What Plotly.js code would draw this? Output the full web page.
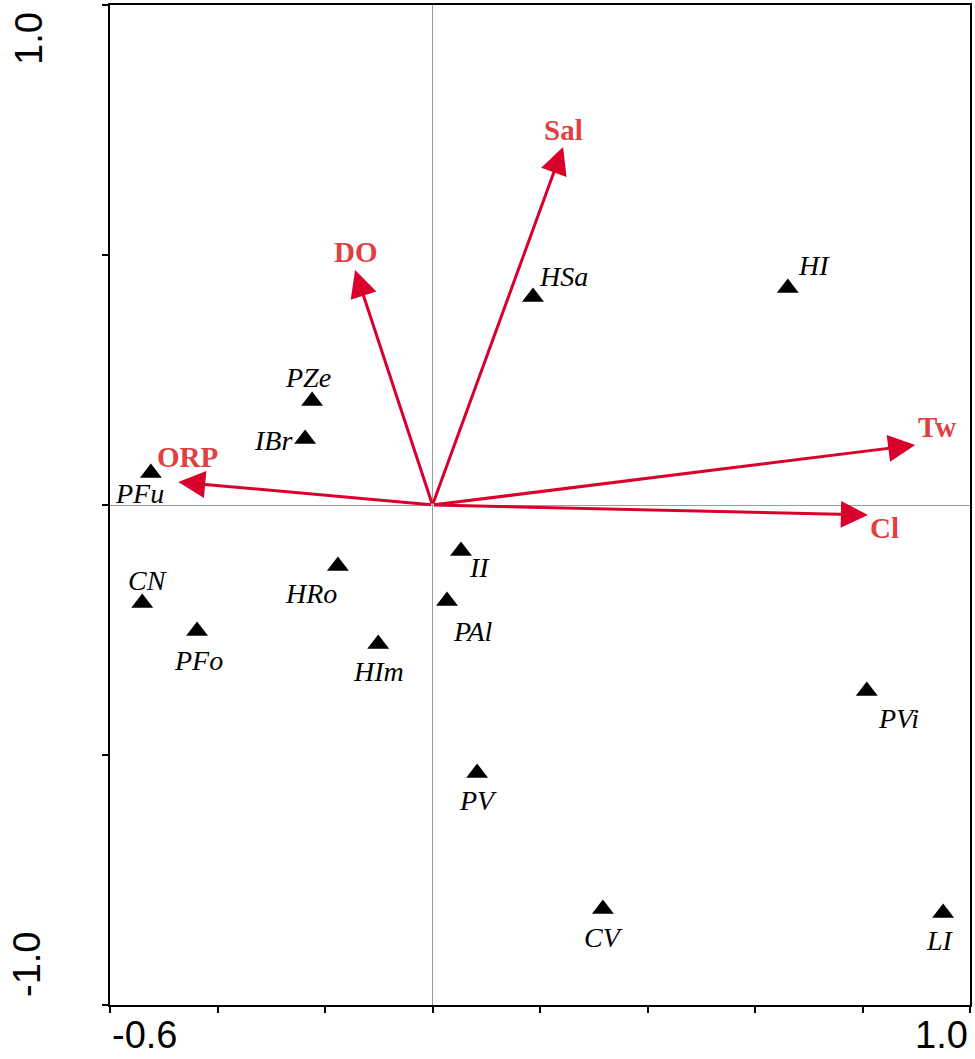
<!DOCTYPE html>
<html>
<head>
<meta charset="utf-8">
<script src="https://cdn.plot.ly/plotly-3.0.1.min.js"></script>
<style>html,body{margin:0;padding:0;background:#fff;}#chart{width:975px;height:1059px;}</style>
</head>
<body>
<div id="chart"></div>
<script>
// Species (sites) scores
const speciesNames = ['HSa','HI','PZe','IBr','PFu','II','HRo','CN','PAl','PFo','HIm','PVi','PV','CV','LI'];
const speciesX = [0.187, 0.661, -0.224, -0.237, -0.524, 0.053, -0.176, -0.540, 0.027, -0.438, -0.101, 0.808, 0.083, 0.317, 0.950];
const speciesY = [0.416, 0.434, 0.208, 0.132, 0.064, -0.092, -0.122, -0.196, -0.192, -0.252, -0.278, -0.372, -0.536, -0.808, -0.816];

// Environmental variable vectors
const envNames = ['Sal','DO','ORP','Tw','Cl'];
const envX = [0.243, -0.144, -0.473, 0.898, 0.810];
const envY = [0.716, 0.470, 0.046, 0.120, -0.020];

// Axis ticks
const xTickVals = [-0.6,-0.4,-0.2,0,0.2,0.4,0.6,0.8,1.0];
const yTickVals = [-1.0,-0.5,0,0.5,1.0];

// label offsets in pixels (style)
const spShift = [[30,21],[26,23],[-4,24],[-32,-1],[-11,-20],[19,-16],[-27,-27],[5,23],[26,-30],[1,-29],[0,-27],[32,-27],[1,-27],[1,-28],[-3,-27]];
const envShift = [[0,17],[1,18],[9,25],[22,18],[17,-13]];

const arrowColor = '#d9002b';
const envLabelColor = '#e2403f';

const annotations = [];
envNames.forEach((n,i)=>{
  annotations.push({
    x: envX[i], y: envY[i], ax: 0, ay: 0, xref:'x', yref:'y', axref:'x', ayref:'y',
    text:'', showarrow:true, arrowhead:2, arrowsize:1.8, arrowwidth:3, arrowcolor:arrowColor, standoff:0
  });
  annotations.push({
    x: envX[i], y: envY[i], xref:'x', yref:'y', text: n, showarrow:false,
    xshift: envShift[i][0], yshift: envShift[i][1],
    font:{family:'Liberation Serif, Times New Roman, serif', size:29, color:envLabelColor, weight:'bold'}
  });
});
speciesNames.forEach((n,i)=>{
  annotations.push({
    x: speciesX[i], y: speciesY[i], xref:'x', yref:'y', text:n, showarrow:false,
    xshift: spShift[i][0], yshift: spShift[i][1],
    font:{family:'Liberation Serif, Times New Roman, serif', size:28, color:'#000', style:'italic'}
  });
});
// axis end labels
const tickFont = {family:'Liberation Sans, Arial, sans-serif', size:38, color:'#000'};
annotations.push({x:xTickVals[0], y:-0.053, xref:'x', yref:'paper', yanchor:'bottom', xanchor:'left', text:xTickVals[0].toFixed(1), showarrow:false, font:tickFont});
annotations.push({x:xTickVals[xTickVals.length-1], y:-0.053, xref:'x', yref:'paper', yanchor:'bottom', xanchor:'right', text:xTickVals[xTickVals.length-1].toFixed(1), showarrow:false, font:tickFont});
annotations.push({x:-0.0942, y:0.967, xref:'paper', yref:'paper', xanchor:'center', yanchor:'middle', text:yTickVals[yTickVals.length-1].toFixed(1), textangle:-90, showarrow:false, font:tickFont});
annotations.push({x:-0.0965, y:0.040, xref:'paper', yref:'paper', xanchor:'center', yanchor:'middle', text:yTickVals[0].toFixed(1), textangle:-90, showarrow:false, font:tickFont});

const trace = {
  x: speciesX, y: speciesY, type:'scatter', mode:'markers',
  marker:{symbol:'triangle-up', size:19, color:'#000'},
  hoverinfo:'text', text: speciesNames
};

const layout = {
  width:975, height:1059,
  margin:{l:110, r:5, t:5, b:54},
  paper_bgcolor:'#fff', plot_bgcolor:'#fff',
  showlegend:false,
  xaxis:{range:[-0.6,1.0], tickvals:xTickVals, ticktext:xTickVals.map(()=>''), ticks:'outside', ticklen:6, tickwidth:2, tickcolor:'#000',
         showline:true, linewidth:2, linecolor:'#000', mirror:true, showgrid:false,
         zeroline:true, zerolinecolor:'#9a9a9a', zerolinewidth:1},
  yaxis:{range:[-1.0,1.0], tickvals:yTickVals, ticktext:yTickVals.map(()=>''), ticks:'outside', ticklen:6, tickwidth:2, tickcolor:'#000',
         showline:true, linewidth:2, linecolor:'#000', mirror:true, showgrid:false,
         zeroline:true, zerolinecolor:'#9a9a9a', zerolinewidth:1},
  annotations: annotations
};

Plotly.newPlot('chart', [trace], layout, {displayModeBar:false, staticPlot:true});
</script>
</body>
</html>
